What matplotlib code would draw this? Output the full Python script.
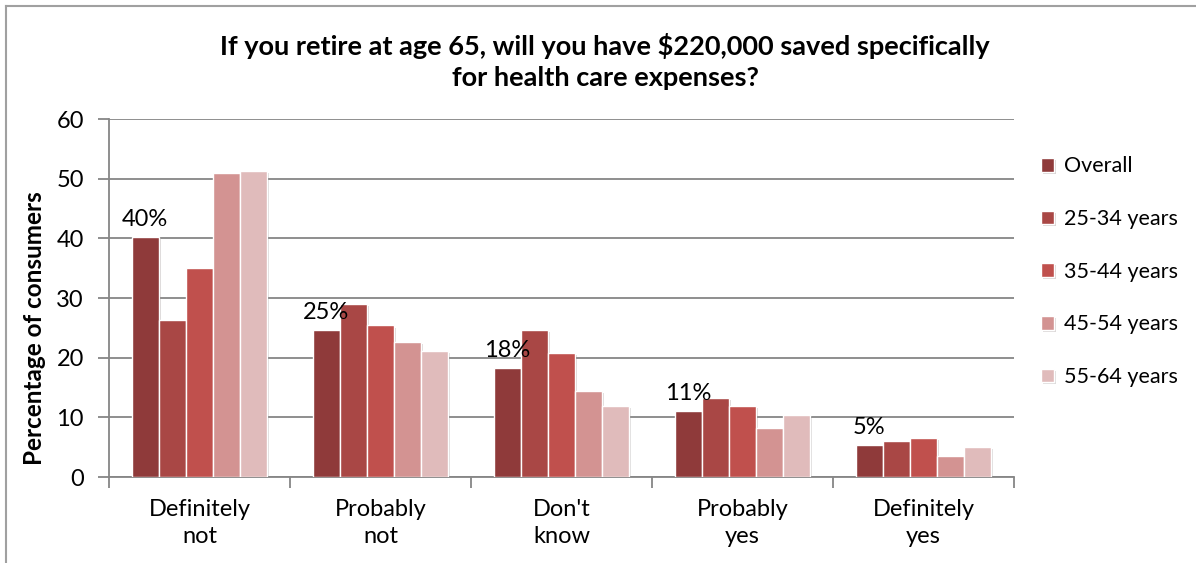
import matplotlib.pyplot as plt
import matplotlib.patheffects as pe
from matplotlib.lines import Line2D
import numpy as np

categories = ['Definitely\nnot', 'Probably\nnot', "Don't\nknow", 'Probably\nyes', 'Definitely\nyes']
series = ['Overall', '25-34 years', '35-44 years', '45-54 years', '55-64 years']
overall = [40.3, 24.6, 18.3, 11.0, 5.3]
age_25_34 = [26.4, 29.0, 24.7, 13.3, 6.1]
age_35_44 = [35.0, 25.4, 20.8, 11.9, 6.6]
age_45_54 = [50.9, 22.7, 14.4, 8.2, 3.5]
age_55_64 = [51.3, 21.1, 11.9, 10.4, 5.1]
overall_labels = ['40%', '25%', '18%', '11%', '5%']
colors = ['#8F3A3A', '#A94745', '#C0504D', '#D39392', '#E0BBBB']

plt.rcParams['font.family'] = ['Lato', 'DejaVu Sans']
grey = '#868686'

fig = plt.figure(figsize=(11.96, 5.63), dpi=100)
ax = fig.add_axes([0.0911, 0.1527, 0.7567, 0.6359])

values = [overall, age_25_34, age_35_44, age_45_54, age_55_64]
x = np.arange(len(categories))
w = 0.75 / len(series)
shadow = [pe.SimplePatchShadow(offset=(1.5, -1.5), alpha=0.18), pe.Normal()]
bars = []
for i, (name, vals) in enumerate(zip(series, values)):
    b = ax.bar(x + (i - 2) * w, vals, w, color=colors[i], edgecolor='white',
               linewidth=1.0, label=name, zorder=3)
    for p in b:
        p.set_path_effects(shadow)
    bars.append(b)

for rect, lab in zip(bars[0], overall_labels):
    ax.annotate(lab, (rect.get_x() + rect.get_width() / 2, rect.get_height()),
                xytext=(0, 5), textcoords='offset points', ha='center', va='bottom',
                fontsize=17, color='black', zorder=4)

ax.set_xlim(-0.5, len(categories) - 0.5)
ax.set_ylim(0, 60)
ax.set_yticks(range(0, 61, 10))
ax.yaxis.grid(True, color=grey, linewidth=1.3, zorder=0)
ax.set_axisbelow(True)

# category ticks sit on the group boundaries, labels in the middle
ax.set_xticks(np.arange(-0.5, len(categories)), minor=False)
ax.set_xticklabels([''] * (len(categories) + 1))
ax.set_xticks(x, minor=True)
ax.set_xticklabels(categories, minor=True, fontsize=17, linespacing=1.35)
ax.tick_params(axis='x', which='major', length=8, width=1.3, color=grey, direction='out')
ax.tick_params(axis='x', which='minor', length=0, pad=16)
ax.tick_params(axis='y', length=8, width=1.3, color=grey, labelsize=17, pad=10)

for s in ['top', 'right']:
    ax.spines[s].set_visible(False)
for s in ['left', 'bottom']:
    ax.spines[s].set_color(grey)
    ax.spines[s].set_linewidth(1.3)

ax.set_ylabel('Percentage of consumers', fontsize=17.5, fontweight='bold')
ax.yaxis.set_label_coords(-0.07, 0.416)

fig.text(0.506, 0.89, 'If you retire at age 65, will you have $220,000 saved specifically\nfor health care expenses?',
         ha='center', va='center', fontsize=19.5, fontweight='bold', linespacing=1.35)

ax.legend(loc='upper left', bbox_to_anchor=(1.02, 0.92), frameon=False, fontsize=15.5,
          handlelength=0.6, handleheight=0.6, handletextpad=0.5, labelspacing=1.52,
          borderaxespad=0)

# outer chart frame
fig.add_artist(Line2D([6 / 1196, 6 / 1196], [0, 1 - 5.5 / 563], transform=fig.transFigure,
                      color='#A0A0A0', linewidth=1.5))
fig.add_artist(Line2D([6 / 1196, 1], [1 - 5.5 / 563, 1 - 5.5 / 563], transform=fig.transFigure,
                      color='#A0A0A0', linewidth=1.5))

fig.savefig('out.png', dpi=100)
